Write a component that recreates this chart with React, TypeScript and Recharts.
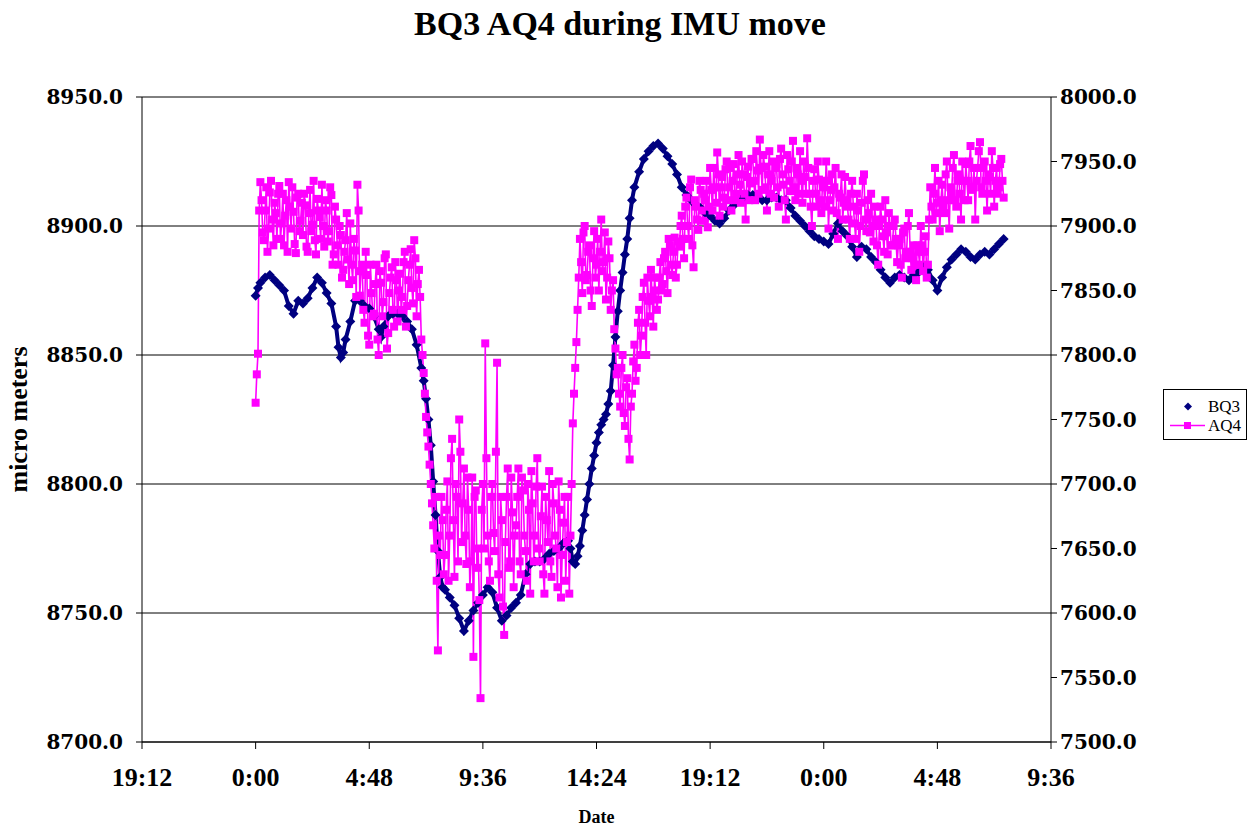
import React from 'react'
import { LineChart, Line, XAxis, YAxis, CartesianGrid, Legend, Label } from 'recharts'

// x is hours after the first midnight
const xTicks = [-4.8, 0, 4.8, 9.6, 14.4, 19.2, 24, 28.8, 33.6]
const xTickLabels = ['19:12', '0:00', '4:48', '9:36', '14:24', '19:12', '0:00', '4:48', '9:36']
const leftTicks = [8700, 8750, 8800, 8850, 8900, 8950]
const rightTicks = [7500, 7550, 7600, 7650, 7700, 7750, 7800, 7850, 7900, 7950, 8000]

// BQ3 readings [hour, micro meters], left axis
const bq3: [number, number][] = [
  [0, 8873], [0.1, 8876], [0.2, 8878], [0.4, 8880], [0.6, 8881], [0.8, 8879], [1.0, 8877], [1.2, 8875],
  [1.4, 8869], [1.6, 8866], [1.8, 8871], [2.0, 8870], [2.2, 8872], [2.4, 8876], [2.6, 8880], [2.8, 8878],
  [3.0, 8874], [3.2, 8870], [3.4, 8861], [3.5, 8853], [3.6, 8849], [3.7, 8851], [3.8, 8856], [4.0, 8863],
  [4.2, 8871], [4.4, 8871], [4.6, 8869], [4.8, 8868], [5.0, 8865], [5.2, 8860], [5.3, 8857], [5.4, 8861],
  [5.6, 8865], [5.8, 8866], [6.0, 8866], [6.2, 8865], [6.4, 8863], [6.6, 8860], [6.8, 8854], [7.0, 8845],
  [7.1, 8840], [7.2, 8833], [7.3, 8825], [7.4, 8815], [7.5, 8801], [7.6, 8788], [7.7, 8774], [7.8, 8764],
  [7.9, 8760], [8.0, 8759], [8.2, 8756], [8.4, 8753], [8.6, 8748], [8.8, 8743], [9.0, 8747], [9.2, 8751],
  [9.4, 8754], [9.6, 8757], [9.8, 8760], [10.0, 8758], [10.2, 8752], [10.4, 8747], [10.6, 8749], [10.8, 8752],
  [11.0, 8754], [11.2, 8757], [11.4, 8765], [11.6, 8769], [11.8, 8770], [12.0, 8770], [12.2, 8771], [12.4, 8773],
  [12.6, 8774], [12.8, 8775], [13.0, 8777], [13.2, 8778], [13.3, 8775], [13.4, 8770], [13.5, 8769], [13.6, 8772],
  [13.7, 8776], [13.8, 8782], [13.9, 8788], [14.0, 8794], [14.1, 8800], [14.2, 8806], [14.3, 8811], [14.4, 8816],
  [14.5, 8820], [14.6, 8823], [14.7, 8825], [14.8, 8827], [14.9, 8831], [15.0, 8836], [15.1, 8846], [15.2, 8857],
  [15.3, 8867], [15.4, 8875], [15.5, 8882], [15.6, 8889], [15.7, 8895], [15.8, 8903], [15.9, 8910], [16.0, 8915],
  [16.2, 8921], [16.4, 8926], [16.6, 8929], [16.8, 8931], [17.0, 8932], [17.2, 8930], [17.4, 8927], [17.6, 8924],
  [17.8, 8920], [18.0, 8915], [18.2, 8912], [18.4, 8910], [18.6, 8908], [18.8, 8907], [19.0, 8905], [19.2, 8904],
  [19.4, 8902], [19.6, 8901], [19.8, 8903], [20.0, 8906], [20.2, 8908], [20.4, 8910], [20.6, 8911], [20.8, 8912],
  [21.0, 8912], [21.2, 8911], [21.4, 8910], [21.6, 8910], [21.8, 8911], [22.0, 8911], [22.2, 8910], [22.4, 8910],
  [22.6, 8907], [22.8, 8904], [23.0, 8902], [23.2, 8900], [23.4, 8898], [23.6, 8896], [23.8, 8895], [24.0, 8894],
  [24.2, 8893], [24.4, 8897], [24.6, 8901], [24.8, 8898], [25.0, 8896], [25.2, 8892], [25.4, 8888], [25.6, 8892],
  [25.8, 8891], [26.0, 8888], [26.2, 8886], [26.4, 8883], [26.6, 8880], [26.8, 8878], [27.0, 8880], [27.2, 8881],
  [27.4, 8880], [27.6, 8879], [27.8, 8881], [28.0, 8882], [28.2, 8884], [28.4, 8883], [28.6, 8879], [28.8, 8875],
  [29.0, 8880], [29.2, 8884], [29.4, 8887], [29.6, 8889], [29.8, 8891], [30.0, 8890], [30.2, 8888], [30.4, 8887],
  [30.6, 8889], [30.8, 8890], [31.0, 8889], [31.2, 8891], [31.4, 8893], [31.6, 8895]
]

// AQ4 readings on the right axis, one row per hour.
// aq4Values are taken on the tenth of an hour (h.0, h.1 ... h.9),
// aq4HalfValues in between them (h.05, h.15 ... h.95).
const AQ4_STEP = 0.1
const aq4Values = [
  7763, 7801, 7934, 7895, 7912, 7880, 7926, 7905, 7918, 7890,
  7931, 7902, 7885, 7920, 7934, 7898, 7911, 7879, 7925, 7904,
  7893, 7916, 7880, 7928, 7901, 7889, 7921, 7907, 7932, 7884,
  7912, 7896, 7924, 7878, 7905, 7870, 7893, 7866, 7889, 7874,
  7902, 7858, 7881, 7932, 7846, 7870, 7825, 7862, 7808, 7848,
  7832, 7870, 7800, 7856, 7841, 7878, 7817, 7860, 7835, 7872,
  7826, 7863, 7845, 7880, 7838, 7870, 7852, 7889, 7830, 7866,
  7812, 7786, 7752, 7729, 7700, 7668, 7690, 7571, 7645, 7672,
  7645, 7702, 7660, 7735, 7628, 7690, 7750, 7655, 7712, 7638,
  7680, 7640, 7566, 7695, 7650, 7534, 7700, 7809, 7660, 7625,
  7700, 7648, 7794, 7612, 7672, 7583, 7690, 7635, 7705, 7620,
  7668, 7712, 7630, 7695, 7648, 7700, 7615, 7685, 7660, 7720,
  7640, 7698, 7615, 7672, 7710, 7628, 7685, 7650, 7702, 7612,
  7670, 7625, 7690, 7660, 7747, 7790, 7835, 7890, 7848, 7900,
  7862, 7885, 7838, 7896, 7870, 7850, 7905, 7872, 7843, 7888,
  7835, 7858, 7805, 7790, 7760, 7800, 7745, 7782, 7719, 7770,
  7808, 7790, 7835, 7815, 7856, 7800, 7842, 7866, 7822, 7850,
  7843, 7872, 7855, 7880, 7848, 7885, 7862, 7891, 7870, 7884,
  7908, 7875, 7922, 7890, 7936, 7868, 7915, 7897, 7928, 7904,
  7920, 7899, 7945, 7912, 7930, 7957, 7908, 7938, 7922, 7950,
  7930, 7912, 7948, 7925, 7955, 7918, 7940, 7905, 7946, 7933,
  7952, 7920, 7943, 7967, 7928, 7946, 7912, 7958, 7935, 7922,
  7948, 7915, 7960, 7932, 7905, 7944, 7927, 7966, 7920, 7940,
  7958, 7918, 7938, 7968, 7925, 7900, 7944, 7915, 7936, 7910,
  7930, 7950, 7898, 7928, 7912, 7945, 7890, 7922, 7905, 7938,
  7915, 7890, 7935, 7902, 7925, 7880, 7918, 7940, 7896, 7910,
  7925, 7888, 7905, 7870, 7915, 7892, 7920, 7878, 7900, 7885,
  7905, 7872, 7890, 7860, 7898, 7880, 7910, 7866, 7885, 7858,
  7880, 7900, 7865, 7892, 7870, 7930, 7905, 7945, 7918, 7896,
  7932, 7910, 7950, 7898, 7925, 7955, 7915, 7940, 7905, 7935,
  7948, 7920, 7962, 7930, 7905, 7945, 7965, 7925, 7950, 7912,
  7938, 7958, 7915, 7945, 7930, 7952, 7922
]
const aq4HalfValues = [
  7785, 7912, 7920, 7889, 7930, 7898, 7935, 7885, 7910, 7925,
  7890, 7925, 7908, 7880, 7915, 7930, 7886, 7922, 7896, 7918,
  7925, 7884, 7910, 7896, 7935, 7878, 7912, 7890, 7900, 7920,
  7888, 7930, 7870, 7915, 7885, 7900, 7860, 7880, 7910, 7855,
  7870, 7890, 7845, 7912, 7865, 7835, 7880, 7815, 7870, 7830,
  7855, 7812, 7865, 7830, 7875, 7805, 7848, 7868, 7822, 7858,
  7850, 7835, 7872, 7822, 7858, 7882, 7840, 7875, 7855, 7845,
  7800, 7770, 7740, 7715, 7685, 7650, 7625, 7660, 7690, 7630,
  7680, 7625, 7720, 7672, 7700, 7640, 7725, 7685, 7660, 7705,
  7620, 7705, 7690, 7635, 7610, 7680, 7650, 7720, 7640, 7690,
  7662, 7725, 7630, 7690, 7605, 7655, 7712, 7640, 7678, 7660,
  7690, 7640, 7705, 7660, 7625, 7680, 7710, 7640, 7698, 7650,
  7675, 7630, 7690, 7655, 7640, 7700, 7660, 7620, 7680, 7645,
  7690, 7655, 7615, 7700, 7770, 7810, 7860, 7872, 7895, 7858,
  7880, 7850, 7875, 7860, 7890, 7880, 7865, 7895, 7860, 7875,
  7850, 7820, 7785, 7770, 7790, 7755, 7775, 7735, 7760, 7795,
  7780, 7825, 7800, 7845, 7825, 7860, 7830, 7845, 7860, 7835,
  7860, 7850, 7875, 7865, 7890, 7870, 7880, 7860, 7888, 7900,
  7890, 7915, 7900, 7930, 7885, 7920, 7905, 7935, 7912, 7925,
  7935, 7915, 7928, 7945, 7918, 7940, 7930, 7915, 7944, 7920,
  7945, 7935, 7920, 7940, 7932, 7950, 7925, 7938, 7920, 7952,
  7935, 7958, 7925, 7945, 7955, 7930, 7940, 7925, 7950, 7945,
  7930, 7952, 7940, 7920, 7955, 7935, 7950, 7930, 7945, 7925,
  7935, 7950, 7925, 7945, 7915, 7935, 7925, 7950, 7920, 7935,
  7915, 7935, 7920, 7940, 7930, 7910, 7925, 7940, 7918, 7920,
  7905, 7925, 7915, 7890, 7912, 7900, 7935, 7905, 7920, 7895,
  7900, 7915, 7885, 7900, 7905, 7880, 7895, 7910, 7885, 7900,
  7890, 7885, 7870, 7895, 7875, 7900, 7880, 7875, 7870, 7885,
  7870, 7885, 7880, 7860, 7905, 7915, 7925, 7910, 7935, 7920,
  7915, 7940, 7920, 7930, 7945, 7920, 7935, 7925, 7950, 7920,
  7935, 7950, 7928, 7945, 7935, 7958, 7930, 7945, 7935, 7940,
  7925, 7945, 7935, 7925, 7948, 7935
]

const NAVY = '#000080'
const MAGENTA = '#FF00FF'

const round2 = (n: number) => Math.round(n * 100) / 100

const bq3Data = bq3.map(([t, v]) => ({ t, bq3: v }))
const aq4Data = [
  ...aq4Values.map((v, i) => ({ t: round2(i * AQ4_STEP), aq4: v })),
  ...aq4HalfValues.map((v, i) => ({ t: round2(i * AQ4_STEP + AQ4_STEP / 2), aq4: v }))
].sort((a, b) => a.t - b.t)

const Diamond = (props: any) => {
  const { cx, cy, index } = props
  if (cx == null || cy == null) return <g key={`d-${index}`} />
  const r = 5
  return (
    <polygon
      key={`d-${index}`}
      points={`${cx},${cy - r} ${cx + r},${cy} ${cx},${cy + r} ${cx - r},${cy}`}
      fill={NAVY}
    />
  )
}

const Square = (props: any) => {
  const { cx, cy, index } = props
  if (cx == null || cy == null) return <g key={`s-${index}`} />
  return <rect key={`s-${index}`} x={cx - 4} y={cy - 4} width={8} height={8} fill={MAGENTA} />
}

const renderLegend = () => (
  <div
    style={{
      border: '1px solid #000',
      background: '#fff',
      width: 84,
      height: 51,
      boxSizing: 'border-box',
      paddingTop: 7,
      fontFamily: 'Liberation Serif',
      fontSize: 17,
      color: '#000'
    }}
  >
    <div style={{ display: 'flex', alignItems: 'center', height: 19 }}>
      <svg width={44} height={19}>
        <polygon points="24,5.5 28,9.5 24,13.5 20,9.5" fill={NAVY} />
      </svg>
      <span>BQ3</span>
    </div>
    <div style={{ display: 'flex', alignItems: 'center', height: 19 }}>
      <svg width={44} height={19}>
        <line x1={6} y1={9.5} x2={41} y2={9.5} stroke={MAGENTA} strokeWidth={1.5} />
        <rect x={20} y={6} width={7} height={7} fill={MAGENTA} />
      </svg>
      <span>AQ4</span>
    </div>
  </div>
)

export default function App() {
  const axisFont = { fontFamily: 'DejaVu Serif', fontWeight: 'bold', fontSize: 20, fill: '#000' }
  return (
    <div style={{ position: 'absolute', left: 0, top: 0, width: 1252, height: 827, background: '#fff' }}>
      <div
        style={{
          position: 'absolute',
          left: 0,
          top: 6,
          width: 1240,
          textAlign: 'center',
          fontFamily: 'Liberation Serif',
          fontWeight: 'bold',
          fontSize: 34,
          lineHeight: '36px',
          color: '#000'
        }}
      >
        BQ3 AQ4 during IMU move
      </div>
      <LineChart width={1252} height={827} margin={{ top: 97, right: 101, bottom: 0, left: 0 }}>
        <CartesianGrid yAxisId="left" horizontal vertical={false} stroke="#000" strokeWidth={1} />
        <XAxis
          type="number"
          dataKey="t"
          domain={[-4.8, 33.6]}
          ticks={xTicks}
          interval={0}
          tickFormatter={(v: number) => xTickLabels[xTicks.indexOf(v)]}
          height={85}
          tickSize={7}
          tickMargin={19}
          stroke="#000"
          tick={{ fontFamily: 'Liberation Serif', fontWeight: 'bold', fontSize: 26, fill: '#000' }}
        >
          <Label
            value="Date"
            position="insideBottom"
            offset={4}
            style={{ fontFamily: 'Liberation Serif', fontWeight: 'bold', fontSize: 18, fill: '#000' }}
          />
        </XAxis>
        <YAxis
          yAxisId="left"
          domain={[8700, 8950]}
          ticks={leftTicks}
          interval={0}
          tickFormatter={(v: number) => v.toFixed(1)}
          width={142}
          tickSize={6}
          tickMargin={13}
          stroke="#000"
          tick={axisFont}
        >
          <Label
            value="micro meters"
            angle={-90}
            position="insideLeft"
            offset={18}
            style={{ textAnchor: 'middle', fontFamily: 'Liberation Serif', fontWeight: 'bold', fontSize: 26, fill: '#000' }}
          />
        </YAxis>
        <YAxis
          yAxisId="right"
          orientation="right"
          domain={[7500, 8000]}
          ticks={rightTicks}
          interval={0}
          tickFormatter={(v: number) => v.toFixed(1)}
          width={100}
          tickSize={6}
          tickMargin={3}
          stroke="#000"
          tick={axisFont}
        />
        <Legend
          layout="vertical"
          align="center"
          verticalAlign="middle"
          content={renderLegend}
          wrapperStyle={{ left: 1163, top: 389, width: 84, height: 51 }}
        />
        <Line
          yAxisId="left"
          data={bq3Data}
          dataKey="bq3"
          name="BQ3"
          stroke={NAVY}
          strokeWidth={4}
          dot={Diamond}
          activeDot={false}
          isAnimationActive={false}
        />
        <Line
          yAxisId="right"
          data={aq4Data}
          dataKey="aq4"
          name="AQ4"
          stroke={MAGENTA}
          strokeWidth={1.6}
          dot={Square}
          activeDot={false}
          isAnimationActive={false}
        />
      </LineChart>
    </div>
  )
}
